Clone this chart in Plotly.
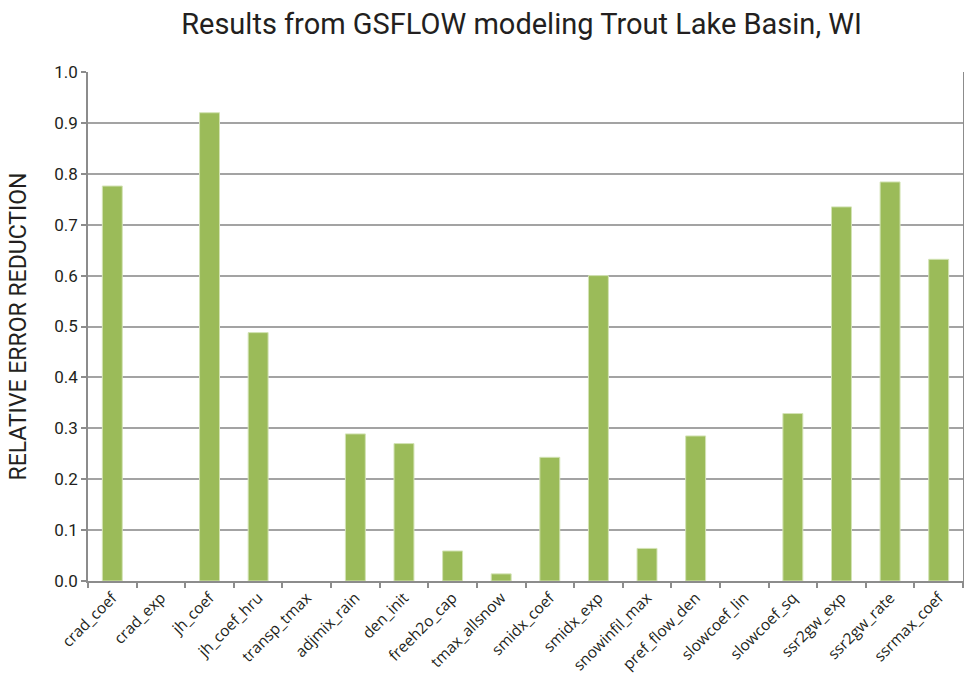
import plotly.graph_objects as go

categories = ["crad_coef", "crad_exp", "jh_coef", "jh_coef_hru", "transp_tmax",
              "adjmix_rain", "den_init", "freeh2o_cap", "tmax_allsnow", "smidx_coef",
              "smidx_exp", "snowinfil_max", "pref_flow_den", "slowcoef_lin",
              "slowcoef_sq", "ssr2gw_exp", "ssr2gw_rate", "ssrmax_coef"]
values = [0.776, 0.0, 0.92, 0.488, 0.0, 0.289, 0.27, 0.059, 0.014, 0.243,
          0.60, 0.064, 0.285, 0.0, 0.329, 0.735, 0.784, 0.632]
y_ticks = [0.0, 0.1, 0.2, 0.3, 0.4, 0.5, 0.6, 0.7, 0.8, 0.9, 1.0]
y_labels = ["0.0", "0.1", "0.2", "0.3", "0.4", "0.5", "0.6", "0.7", "0.8", "0.9", "1.0"]

cond = "Liberation Sans Narrow, Roboto, sans-serif"

fig = go.Figure(go.Bar(
    x=categories, y=values,
    marker=dict(color="#9BBB59",
                line=dict(color="#D3E3B5", width=[1 if v > 0 else 0 for v in values])),
))

fig.update_layout(
    width=964, height=688,
    margin=dict(l=88, r=1, t=72, b=107),
    paper_bgcolor="white", plot_bgcolor="white",
    bargap=0.59,
    showlegend=False,
    title=dict(text="Results from GSFLOW modeling Trout Lake Basin, WI",
               x=0.541, xanchor="center", y=0.966, yanchor="middle",
               font=dict(family=cond, size=29, color="#231F20")),
)
fig.update_xaxes(
    type="category",
    tickangle=-45,
    tickfont=dict(family="Open Sans, sans-serif", size=15.5, color="#231F20"),
    showline=True, linecolor="#8C8C8C", linewidth=1.5,
    ticks="outside", ticklen=5, tickcolor="#8C8C8C", tickwidth=1.5,
    tickson="boundaries",
    showgrid=False,
    automargin=False,
)
fig.update_yaxes(
    range=[0, 1.0],
    tickvals=y_ticks, ticktext=y_labels,
    tickfont=dict(family=cond, size=17, color="#231F20"),
    showline=True, linecolor="#8C8C8C", linewidth=1.5, mirror=True,
    ticks="outside", ticklen=5, tickcolor="#8C8C8C", tickwidth=1.5,
    showgrid=True, gridcolor="#A3A3A3", gridwidth=1.5,
    zeroline=False,
    title=dict(text="RELATIVE ERROR REDUCTION",
               font=dict(family=cond, size=23, color="#231F20"), standoff=21),
    automargin=False,
)

fig.write_html("out.html", config={"displayModeBar": False},
               post_script="document.body.style.margin='0';")
